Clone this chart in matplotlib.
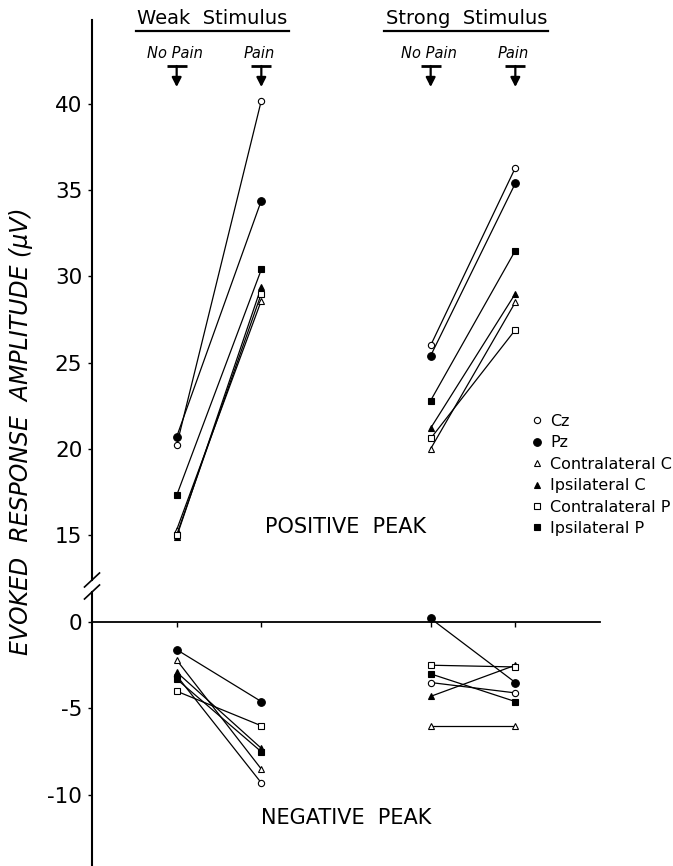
import matplotlib
matplotlib.use("Agg")
import matplotlib.pyplot as plt
from matplotlib.lines import Line2D
from matplotlib.transforms import blended_transform_factory

plt.rcParams['font.family'] = ['DejaVu Sans']
plt.rcParams['axes.unicode_minus'] = False

# ---- data (uV), one value per electrode ----
electrodes = ["Cz", "Pz", "Contralateral C", "Ipsilateral C", "Contralateral P", "Ipsilateral P"]
conditions = ["No Pain", "Pain"]
stimuli = ["Weak  Stimulus", "Strong  Stimulus"]

pos_weak_nopain = [20.2, 20.7, 15.3, 14.9, 15.0, 17.3]
pos_weak_pain = [40.2, 34.4, 28.6, 29.4, 29.0, 30.4]
pos_strong_nopain = [26.0, 25.4, 20.0, 21.2, 20.6, 22.8]
pos_strong_pain = [36.3, 35.4, 28.5, 29.0, 26.9, 31.5]

neg_weak_nopain = [-3.1, -1.6, -2.2, -2.9, -4.0, -3.3]
neg_weak_pain = [-9.3, -4.6, -8.5, -7.3, -6.0, -7.5]
neg_strong_nopain = [-3.5, 0.2, -6.0, -4.3, -2.5, -3.0]
neg_strong_pain = [-4.1, -3.5, -6.0, -2.5, -2.6, -4.6]

pos_ticks = [15, 20, 25, 30, 35, 40]
neg_ticks = [-10, -5, 0]

# ---- layout / styles ----
weak_x = (1, 2)
strong_x = (4, 5)
W, H = 673, 866

styles = [
    dict(marker='o', mfc='white', ms=4.5),
    dict(marker='o', mfc='black', ms=5.5),
    dict(marker='^', mfc='white', ms=5),
    dict(marker='^', mfc='black', ms=5),
    dict(marker='s', mfc='white', ms=4),
    dict(marker='s', mfc='black', ms=4),
]


def fx(px):
    return px / W


def fy(py):
    return 1 - py / H


fig = plt.figure(figsize=(W / 100, H / 100), dpi=100)
ax_top = fig.add_axes([fx(92), fy(580), fx(600) - fx(92), fy(20) - fy(580)])
ax_bot = fig.add_axes([fx(92), fy(866), fx(600) - fx(92), fy(592) - fy(866)])

ax_top.set_xlim(0, 6)
ax_top.set_ylim(12.39, 44.87)
ax_bot.set_xlim(0, 6)
ax_bot.set_ylim(-14.1, 1.73)

for ax in (ax_top, ax_bot):
    ax.patch.set_visible(False)
    ax.spines['right'].set_visible(False)
    ax.spines['top'].set_visible(False)
    ax.spines['left'].set_linewidth(1.5)
    ax.tick_params(axis='y', direction='out', length=3, width=1, pad=4, labelsize=15.5)

ax_top.spines['bottom'].set_visible(False)
ax_top.set_xticks([])
ax_top.set_yticks(pos_ticks)

ax_bot.spines['bottom'].set_position(('data', 0))
ax_bot.spines['bottom'].set_linewidth(1.3)
ax_bot.set_xticks(list(weak_x) + list(strong_x))
ax_bot.set_xticklabels([])
ax_bot.tick_params(axis='x', direction='out', length=3.5, width=1)
ax_bot.set_yticks(neg_ticks)

# ---- data lines ----
for i, st in enumerate(styles):
    kw = dict(color='black', lw=0.9, mec='black', mew=0.8, clip_on=False, **st)
    ax_top.plot(weak_x, [pos_weak_nopain[i], pos_weak_pain[i]], **kw)
    ax_top.plot(strong_x, [pos_strong_nopain[i], pos_strong_pain[i]], **kw)
    ax_bot.plot(weak_x, [neg_weak_nopain[i], neg_weak_pain[i]], **kw)
    ax_bot.plot(strong_x, [neg_strong_nopain[i], neg_strong_pain[i]], **kw)

# ---- axis break marks ----
d = dict(color='black', lw=1.2, clip_on=False)
dx = 7.5 / 508
ax_top.plot([-dx, dx], [-7 / 560, 7 / 560], transform=ax_top.transAxes, **d)
ax_bot.plot([-dx, dx], [1 - 7 / 274, 1 + 7 / 274], transform=ax_bot.transAxes, **d)

# ---- panel labels ----
ax_top.text(3.0, 15.46, "POSITIVE  PEAK", ha='center', va='center', fontsize=15)
ax_bot.text(3.0, -11.33, "NEGATIVE  PEAK", ha='center', va='center', fontsize=15)

fig.text(fx(21), fy(431), "EVOKED  RESPONSE  AMPLITUDE (\u03bcV)", rotation=90,
         ha='center', va='center', fontsize=17, style='italic')

# ---- header: stimulus and condition markers ----
blend = blended_transform_factory(ax_top.transData, fig.transFigure)
headers = []
for name, cols in zip(stimuli, (weak_x, strong_x)):
    t = ax_top.text(sum(cols) / 2 - 0.08, fy(18), name, transform=blend,
                    ha='center', va='center', fontsize=14)
    headers.append(t)
    for cond, cx in zip(conditions, cols):
        ax_top.text(cx - 0.02, fy(53), cond, transform=blend, ha='center', va='center',
                    fontsize=10.5, style='italic')
        ax_top.annotate('', xy=(cx, fy(87)), xytext=(cx, fy(66)), xycoords=blend,
                        textcoords=blend, annotation_clip=False,
                        arrowprops=dict(arrowstyle='-|>,head_length=0.55,head_width=0.28',
                                        color='black', lw=1.6, shrinkA=0, shrinkB=0))
    ax_top.plot(cols, [fy(66)] * 2, ls='none', marker='_', ms=14, mew=2,
                color='black', transform=blend, clip_on=False)

fig.canvas.draw()
renderer = fig.canvas.get_renderer()
for t in headers:
    bb = t.get_window_extent(renderer).transformed(fig.transFigure.inverted())
    fig.add_artist(Line2D([bb.x0 - 0.002, bb.x1 + 0.002], [fy(31)] * 2,
                          transform=fig.transFigure, color='black', lw=1.6))

# ---- legend ----
handles = [Line2D([], [], ls='none', color='black', mec='black', mew=0.8, **st)
           for st in styles]
fig.legend(handles, electrodes, loc='upper left',
           bbox_to_anchor=(fx(532), fy(414)), bbox_transform=fig.transFigure,
           frameon=False, fontsize=11.5, handlelength=0.6, handletextpad=0.55,
           labelspacing=0.4, borderpad=0, borderaxespad=0)

fig.savefig('out.png', dpi=100)
